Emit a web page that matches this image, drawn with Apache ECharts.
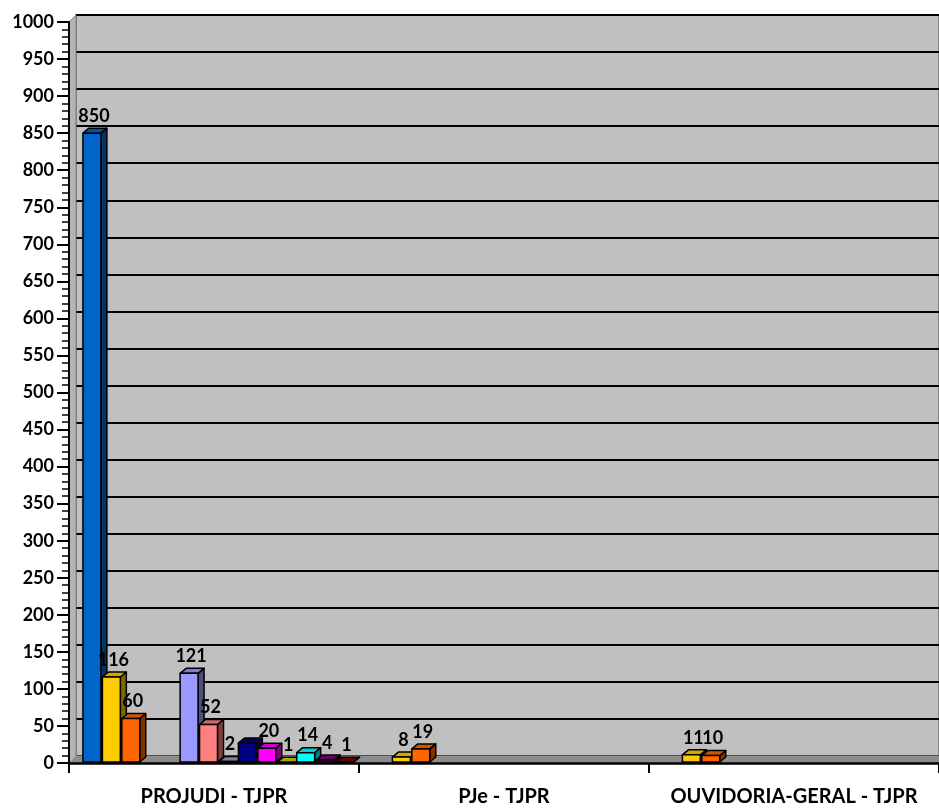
<!DOCTYPE html>
<html>
<head>
<meta charset="utf-8">
<script src="https://cdn.jsdelivr.net/npm/echarts@6/dist/echarts.min.js"></script>
<style>
html,body{margin:0;padding:0;background:#fff;}
#chart{width:939px;height:808px;}
</style>
</head>
<body>
<div id="chart"></div>
<script>
// ---- data ----
const categories = ['PROJUDI - TJPR', 'PJe - TJPR', 'OUVIDORIA-GERAL - TJPR'];
const yTicks = [0, 1000, 50];
const serie01 = [850, null, null];
const serie02 = [116, 8, 11];
const serie03 = [60, 19, 10];
const serie06 = [121, null, null];
const serie07 = [52, null, null];
const serie08 = [2, null, null];
const serie09 = [27, null, null];
const serie10 = [20, null, null];
const serie11 = [1, null, null];
const serie12 = [14, null, null];
const serie13 = [4, null, null];
const serie14 = [1, null, null];
const hiddenLabels = [['serie09', 0]];

// ---- styling ----
const seriesDefs = [
  {name: 'serie01', data: serie01, slot: 0, color: '#0066CC'},
  {name: 'serie02', data: serie02, slot: 1, color: '#FFCC00'},
  {name: 'serie03', data: serie03, slot: 2, color: '#FF6600'},
  {name: 'serie06', data: serie06, slot: 5, color: '#9999FF'},
  {name: 'serie07', data: serie07, slot: 6, color: '#FF8080'},
  {name: 'serie08', data: serie08, slot: 7, color: '#9999CC'},
  {name: 'serie09', data: serie09, slot: 8, color: '#000080'},
  {name: 'serie10', data: serie10, slot: 9, color: '#FF00FF'},
  {name: 'serie11', data: serie11, slot: 10, color: '#CCCC00'},
  {name: 'serie12', data: serie12, slot: 11, color: '#00FFFF'},
  {name: 'serie13', data: serie13, slot: 12, color: '#800080'},
  {name: 'serie14', data: serie14, slot: 13, color: '#800000'}
];
const FONT = 'Lato';
const WEIGHT = 'bold';
const OFFSET = 14 / 291, WIDTH = 18 / 291, PITCH = 19.5 / 291;
const DX = 6, DY = -5;

function shade(hex, f) {
  const n = parseInt(hex.slice(1), 16);
  const r = Math.round(((n >> 16) & 255) * f), g = Math.round(((n >> 8) & 255) * f), b = Math.round((n & 255) * f);
  return 'rgb(' + r + ',' + g + ',' + b + ')';
}

function makeRender(def) {
  return function (params, api) {
    const cat = api.value(0), val = api.value(1);
    const base = api.coord([cat, 0]);
    const top = api.coord([cat, val]);
    const band = api.size([1, 0])[0];
    const x0 = base[0] - band / 2 + band * (OFFSET + def.slot * PITCH);
    const w = band * WIDTH;
    const yb = base[1] - 1, yt = top[1];
    const hide = hiddenLabels.some(h => h[0] === def.name && h[1] === cat);
    const stroke = {stroke: '#000', lineWidth: 1.5, lineJoin: 'round'};
    const children = [
      {type: 'polygon', shape: {points: [[x0 + w, yt], [x0 + w + DX, yt + DY], [x0 + w + DX, yb + DY], [x0 + w, yb]]},
        style: Object.assign({fill: shade(def.color, 0.5)}, stroke)},
      {type: 'polygon', shape: {points: [[x0, yt], [x0 + w, yt], [x0 + w + DX, yt + DY], [x0 + DX, yt + DY]]},
        style: Object.assign({fill: shade(def.color, 0.82)}, stroke)},
      {type: 'rect', shape: {x: x0, y: yt, width: w, height: Math.max(yb - yt, 0)},
        style: Object.assign({fill: def.color}, stroke)}
    ];
    if (!hide) {
      children.push({type: 'text', z2: 100, style: {
        text: String(val), x: x0 + w / 2 + 2, y: yt + DY - 3,
        align: 'center', verticalAlign: 'bottom',
        font: WEIGHT + ' 18px ' + FONT, fill: '#000'}});
    }
    return {type: 'group', children: children};
  };
}

const chart = echarts.init(document.getElementById('chart'));
const FL = 69, FT = 22, FB = 45, FR = -6;

const series = seriesDefs.map(def => ({
  type: 'custom', name: def.name, xAxisIndex: 0, yAxisIndex: 0,
  clip: false, z: 10,
  renderItem: makeRender(def),
  encode: {x: 0, y: 1},
  data: def.data.map((v, i) => v == null ? null : [i, v]).filter(d => d)
}));
series.push({type: 'bar', xAxisIndex: 1, yAxisIndex: 1, data: [], silent: true});

chart.setOption({
  animation: false,
  grid: [
    {left: FL, top: FT, bottom: FB, right: FR, z: 5},
    {left: FL + 7, top: FT - 7, bottom: FB + 7, right: FR - 7, show: true,
      backgroundColor: '#C0C0C0', borderColor: '#808080', borderWidth: 2, z: 0}
  ],
  xAxis: [
    {type: 'category', gridIndex: 0, data: categories, boundaryGap: true,
      axisLine: {show: true, lineStyle: {color: '#000', width: 2.5}},
      axisTick: {show: true, interval: 0, length: 10, lineStyle: {color: '#000', width: 2}},
      axisLabel: {interval: 0, margin: 24, color: '#000', fontFamily: FONT, fontWeight: WEIGHT, fontSize: 20},
      z: 20},
    {type: 'category', gridIndex: 1, data: categories, show: false}
  ],
  yAxis: [
    {type: 'value', gridIndex: 0, min: yTicks[0], max: yTicks[1], interval: yTicks[2],
      axisLine: {show: true, lineStyle: {color: '#000', width: 2}},
      axisTick: {show: true, length: 12, lineStyle: {color: '#000', width: 2}},
      minorTick: {show: true, splitNumber: 5, length: 7, lineStyle: {color: '#000', width: 1.5}},
      axisLabel: {margin: 15, color: '#000', fontFamily: FONT, fontWeight: WEIGHT, fontSize: 18,
        formatter: v => String(v)},
      splitLine: {show: false}, z: 20},
    {type: 'value', gridIndex: 1, min: yTicks[0], max: yTicks[1], interval: yTicks[2],
      axisLine: {show: false}, axisTick: {show: false}, axisLabel: {show: false},
      splitLine: {show: true, lineStyle: {color: '#000', width: 2}}}
  ],
  series: series
});

const fTop = chart.convertToPixel({yAxisIndex: 0}, yTicks[1]);
const fBot = chart.convertToPixel({yAxisIndex: 0}, yTicks[0]);
const bTop = chart.convertToPixel({yAxisIndex: 1}, yTicks[1]);
const bBot = chart.convertToPixel({yAxisIndex: 1}, yTicks[0]);
const W = chart.getWidth();
chart.setOption({
  graphic: [
    {type: 'polygon', z: 1, silent: true,
      shape: {points: [[FL, fBot], [FL, fTop], [FL + 7, bTop], [FL + 7, bBot]]},
      style: {fill: '#B4B4B4', stroke: '#808080', lineWidth: 1}},
    {type: 'polygon', z: 1, silent: true,
      shape: {points: [[FL, fBot], [FL + 7, bBot], [W + 10, bBot], [W + 10, fBot]]},
      style: {fill: '#8C8C8C', stroke: '#9a9a9a', lineWidth: 1}}
  ]
});
</script>
</body>
</html>
